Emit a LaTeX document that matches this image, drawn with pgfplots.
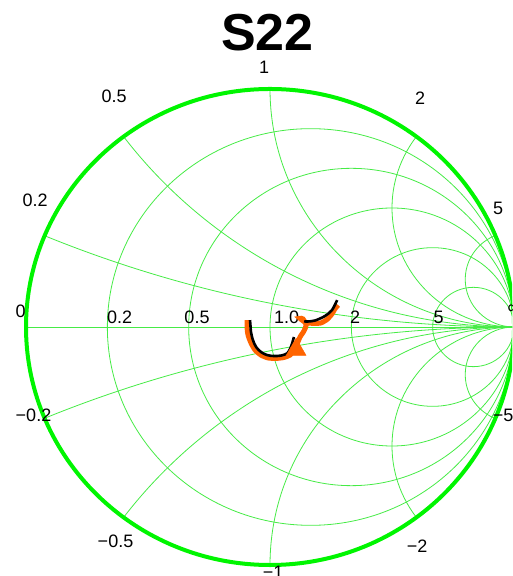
\documentclass[border=0pt]{standalone}
\usepackage{pgfplots}
\pgfplotsset{compat=1.18}
\usepackage{fontspec}
\setmainfont{Liberation Sans}
\definecolor{gridgreen}{RGB}{70,235,70}
\definecolor{rimgreen}{RGB}{0,245,0}
\definecolor{trace}{RGB}{255,100,0}
\begin{document}
\begin{tikzpicture}
\begin{axis}[
  x=244bp, y=238bp,
  xmin=-1.1066, xmax=0.9918, ymin=-1.0462, ymax=1.3739,
  hide axis, clip=true,
]
% resistance circles
\draw[gridgreen, line width=0.8bp] (axis cs:0.16667,0) ellipse [x radius=0.83333, y radius=0.83333];
\draw[gridgreen, line width=0.8bp] (axis cs:0.33333,0) ellipse [x radius=0.66667, y radius=0.66667];
\draw[gridgreen, line width=0.8bp] (axis cs:0.5,0) ellipse [x radius=0.5, y radius=0.5];
\draw[gridgreen, line width=0.8bp] (axis cs:0.66667,0) ellipse [x radius=0.33333, y radius=0.33333];
\draw[gridgreen, line width=0.8bp] (axis cs:0.83333,0) ellipse [x radius=0.16667, y radius=0.16667];
\draw[gridgreen, line width=0.8bp] (axis cs:-1,0) -- (axis cs:1,0);
% reactance arcs
\begin{scope}
\clip (axis cs:0,0) ellipse [x radius=1, y radius=1];
\draw[gridgreen, line width=0.8bp] (axis cs:1,5) ellipse [x radius=5, y radius=5];
\draw[gridgreen, line width=0.8bp] (axis cs:1,-5) ellipse [x radius=5, y radius=5];
\draw[gridgreen, line width=0.8bp] (axis cs:1,2) ellipse [x radius=2, y radius=2];
\draw[gridgreen, line width=0.8bp] (axis cs:1,-2) ellipse [x radius=2, y radius=2];
\draw[gridgreen, line width=0.8bp] (axis cs:1,1) ellipse [x radius=1, y radius=1];
\draw[gridgreen, line width=0.8bp] (axis cs:1,-1) ellipse [x radius=1, y radius=1];
\draw[gridgreen, line width=0.8bp] (axis cs:1,0.5) ellipse [x radius=0.5, y radius=0.5];
\draw[gridgreen, line width=0.8bp] (axis cs:1,-0.5) ellipse [x radius=0.5, y radius=0.5];
\draw[gridgreen, line width=0.8bp] (axis cs:1,0.2) ellipse [x radius=0.2, y radius=0.2];
\draw[gridgreen, line width=0.8bp] (axis cs:1,-0.2) ellipse [x radius=0.2, y radius=0.2];
\end{scope}
% outer rim
\draw[rimgreen, line width=4bp] (axis cs:0,0) ellipse [x radius=1, y radius=1];
% resistance labels
\begin{scope}[every node/.style={font=\fontsize{18bp}{20bp}\selectfont, inner sep=0pt, anchor=base}]
\node at (axis cs:-0.6168,0.0126) {0.2};
\node at (axis cs:-0.2992,0.0126) {0.5};
\node at (axis cs:0.0676,0.0126) {1.0};
\node at (axis cs:0.3484,0.0126) {2};
\node at (axis cs:0.6906,0.0126) {5};
\end{scope}
% reactance labels
\begin{scope}[every node/.style={font=\fontsize{18bp}{20bp}\selectfont, inner sep=0pt, anchor=center}]
\node at (axis cs:-0.0246,1.0920) {1};
\node at (axis cs:-0.6393,0.9706) {0.5};
\node at (axis cs:0.6148,0.9601) {2};
\node at (axis cs:-0.9631,0.5336) {0.2};
\node at (axis cs:0.9344,0.4979) {5};
\node at (axis cs:-1.0225,0.0672) {0};
\node at (axis cs:1.0,0.0756) {∞};
\node at (axis cs:-0.9693,-0.3697) {−0.2};
\node at (axis cs:0.9549,-0.3697) {−5};
\node at (axis cs:-0.6332,-0.9013) {−0.5};
\node at (axis cs:0.6025,-0.9223) {−2};
\node at (axis cs:0.0123,-1.0294) {−1};
\end{scope}
% title
\node[anchor=base, inner sep=0pt, font=\bfseries\fontsize{52bp}{56bp}\selectfont]
  at (axis cs:-0.0102,1.1610) {S22};
% data
\addplot[trace, line width=5bp, smooth, tension=0.4] coordinates {
(-0.094,0.029) (-0.094,-0.004) (-0.090,-0.034) (-0.078,-0.067) (-0.061,-0.097)
(-0.037,-0.118) (-0.008,-0.130) (0.025,-0.132) (0.057,-0.128) (0.082,-0.118)
(0.098,-0.097) (0.111,-0.071) (0.123,-0.042) (0.139,-0.017) (0.148,0.008)
(0.135,0.034) (0.123,0.036) (0.139,0.023) (0.156,0.017) (0.184,0.015)
(0.209,0.017) (0.234,0.032) (0.254,0.055) (0.266,0.076) (0.279,0.092)
};
\addplot[black, line width=2.6bp, smooth, tension=0.5] coordinates {
(-0.082,0.029) (-0.080,0.004) (-0.078,-0.021) (-0.070,-0.055) (-0.057,-0.084)
(-0.037,-0.105) (-0.012,-0.118) (0.016,-0.122) (0.045,-0.120) (0.070,-0.111)
(0.082,-0.092) (0.090,-0.071) (0.098,-0.042)
};
\addplot[black, line width=2.6bp, smooth, tension=0.5] coordinates {
(0.140,0.024) (0.152,0.023) (0.184,0.027) (0.225,0.046) (0.254,0.071) (0.275,0.113)
};
\addplot[only marks, mark=triangle*, mark size=11.5pt, color=trace, fill=trace] coordinates {(0.107,-0.095)};
\end{axis}
\pgfresetboundingbox
\path[use as bounding box] (current axis.south west) rectangle (current axis.north east);
\end{tikzpicture}
\end{document}
